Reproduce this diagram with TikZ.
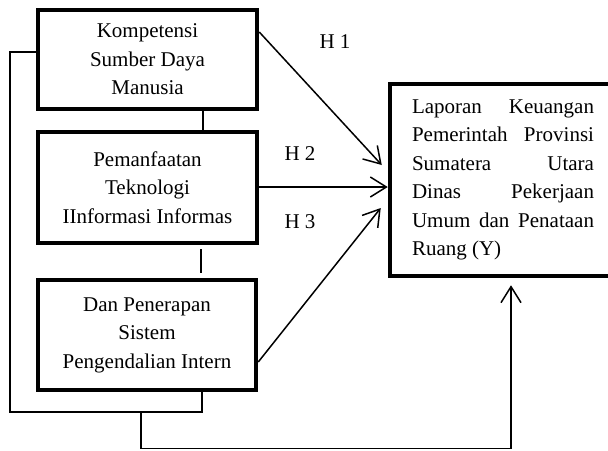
\documentclass[tikz,border=0pt]{standalone}
\usepackage{fontspec}
\setmainfont{Liberation Serif}
\usetikzlibrary{arrows.meta}

\begin{document}
\begin{tikzpicture}[x=1pt, y=-1pt,
		font=\fontsize{21}{28.5}\selectfont,
		varbox/.style={draw, line width=4.5pt, inner sep=0pt, align=center, minimum width=219pt},
		link/.style={line width=1.5pt},
		hypo/.style={line width=1.5pt, -{Straight Barb[length=16pt, width=20pt, line width=1.5pt]}},
	]
		\useasboundingbox (0,0) rectangle (608,450);
		
		\node[varbox, minimum height=99pt] (kom) at (147.5,59.5) {Kompetensi\\Sumber Daya\\Manusia};
		\node[varbox, minimum height=111pt] (tek) at (147.5,187.5) {Pemanfaatan\\Teknologi\\IInformasi Informas};
		\node[varbox, minimum height=110pt, minimum width=218pt] (spi) at (147,335) {Dan Penerapan\\Sistem\\Pengendalian Intern};
		\node[varbox, minimum height=192pt, minimum width=226pt, text width=182pt, align=justify] (lap) at (503,180)
			{Laporan Keuangan\linebreak Pemerintah Provinsi\linebreak Sumatera Utara\linebreak Dinas Pekerjaan\linebreak Umum dan Penataan\linebreak Ruang (Y)};
		
		\draw[hypo] ([yshift=27.5pt]kom.east) -- ([xshift=-6pt, yshift=15pt]lap.west);
		\draw[hypo] ([yshift=0.5pt]tek.east) -- ([yshift=-7pt]lap.west);
		\draw[hypo] ([yshift=-27pt]spi.east) -- ([xshift=-7pt, yshift=-28pt]lap.west);
		\node at (335,42) {H 1};
		\node at (300,154) {H 2};
		\node at (300,222) {H 3};
		
		\draw[link] ([xshift=55.5pt]kom.south) -- ([xshift=55.5pt]tek.north);
		\draw[link] ([xshift=53.5pt, yshift=-4pt]tek.south) -- ([xshift=54pt, yshift=5pt]spi.north);
		
		\coordinate (loop) at (10,412);
		\coordinate (join) at (141,412);
		\coordinate (base) at (141,448.5);
		\draw[link] ([yshift=7.5pt]kom.west) -| (loop) -| ([xshift=55pt]spi.south);
		\draw[hypo] (join) -- (base) -| ([xshift=8pt, yshift=-7pt]lap.south);
	\end{tikzpicture}
\end{document}
